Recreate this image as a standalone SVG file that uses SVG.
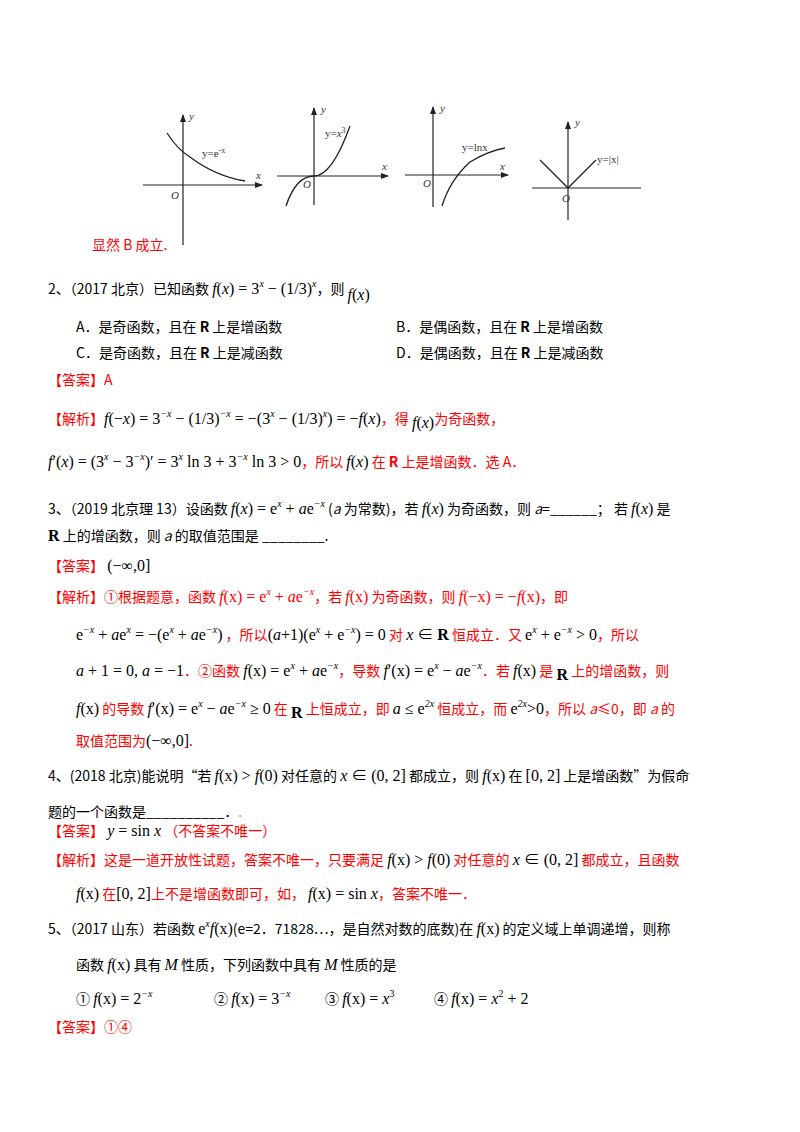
<svg xmlns="http://www.w3.org/2000/svg" width="800" height="1132" viewBox="0 0 800 1132">
<defs><marker id="ar" markerWidth="8" markerHeight="6" refX="7" refY="3" orient="auto" markerUnits="userSpaceOnUse"><path d="M0,0 L8,3 L0,6 Z" fill="#222"/></marker></defs>
<style>
text{font-family:"Noto Sans CJK SC","Noto Sans",sans-serif;font-size:14px;fill:#000}
.r{fill:#ff0000}
.m{font-family:"Liberation Serif","Noto Sans CJK SC",serif;font-size:16px}
.i{font-style:italic}
.g{font-family:"Liberation Serif",serif;font-size:11px;fill:#333}
.ax{stroke:#222;stroke-width:1.2;fill:none}
.cv{stroke:#222;stroke-width:1.3;fill:none}
.s{font-size:10px}
.b{font-weight:bold}
</style>
<rect width="800" height="1132" fill="#fff"/>
<g id="connectors">
<line class="ax" x1="183" y1="245" x2="183" y2="115" marker-end="url(#ar)"/>
<line class="ax" x1="143" y1="185" x2="262" y2="185" marker-end="url(#ar)"/>
<line class="ax" x1="314" y1="205" x2="314" y2="108" marker-end="url(#ar)"/>
<line class="ax" x1="277" y1="176" x2="388" y2="176" marker-end="url(#ar)"/>
<line class="ax" x1="433" y1="207" x2="433" y2="107" marker-end="url(#ar)"/>
<line class="ax" x1="405" y1="175" x2="508" y2="175" marker-end="url(#ar)"/>
<line class="ax" x1="568" y1="220" x2="568" y2="122" marker-end="url(#ar)"/>
<line class="ax" x1="532" y1="188" x2="641" y2="188"/>
</g>
<g id="graphs">
<path class="cv" d="M167,133 Q178,150 190,157 Q215,176 245,181"/>
<path class="cv" d="M286,206 Q296,176 314,176 Q332,176 350,126"/>
<path class="cv" d="M442,206 Q450,180 470,162 Q488,151 505,148"/>
<path class="cv" d="M540,160 L568,188 L596,160"/>
<text class="g i" x="189" y="120">y</text><text class="g" x="202" y="157">y=e<tspan dy="-4" font-size="8">-x</tspan></text><text class="g i" x="256" y="179">x</text><text class="g i" x="171" y="199">O</text>
<text class="g i" x="321" y="113">y</text><text class="g" x="325" y="137">y=<tspan font-style="italic">x</tspan><tspan dy="-4" font-size="8">3</tspan></text><text class="g i" x="382" y="170">x</text><text class="g i" x="303" y="188">O</text>
<text class="g i" x="440" y="112">y</text><text class="g" x="462" y="151">y=lnx</text><text class="g i" x="500" y="170">x</text><text class="g i" x="423" y="187">O</text>
<text class="g i" x="575" y="126">y</text><text class="g" x="597" y="163">y=|x|</text><text class="g i" x="562" y="202">O</text>
</g>
<g id="text">
<text class="r" x="92" y="250">显然 B 成立.</text>
<text x="48" y="294">2、（2017 北京）已知函数 <tspan class="m i">f</tspan><tspan class="m">(</tspan><tspan class="m i">x</tspan><tspan class="m">) = 3</tspan><tspan class="m i s" dy="-7">x</tspan><tspan class="m" dy="7"> − (</tspan><tspan class="m" font-size="12">1/3</tspan><tspan class="m">)</tspan><tspan class="m i s" dy="-7">x</tspan><tspan dy="7">，则 </tspan><tspan class="m i" dy="6">f</tspan><tspan class="m">(</tspan><tspan class="m i">x</tspan><tspan class="m">)</tspan></text>
<text x="76" y="332">A．是奇函数，且在 <tspan class="b">R</tspan> 上是增函数</text>
<text x="396" y="332">B．是偶函数，且在 <tspan class="b">R</tspan> 上是增函数</text>
<text x="76" y="358">C．是奇函数，且在 <tspan class="b">R</tspan> 上是减函数</text>
<text x="396" y="358">D．是偶函数，且在 <tspan class="b">R</tspan> 上是减函数</text>
<text class="r" x="48" y="385">【答案】A</text>
<text class="r" x="48" y="424">【解析】<tspan class="m i" fill="#000">f</tspan><tspan class="m" fill="#000">(−</tspan><tspan class="m i" fill="#000">x</tspan><tspan class="m" fill="#000">) = 3</tspan><tspan class="m i s" fill="#000" dy="-7">−x</tspan><tspan class="m" fill="#000" dy="7"> − (1/3)</tspan><tspan class="m i s" fill="#000" dy="-7">−x</tspan><tspan class="m" fill="#000" dy="7"> = −(3</tspan><tspan class="m i s" fill="#000" dy="-7">x</tspan><tspan class="m" fill="#000" dy="7"> − (1/3)</tspan><tspan class="m i s" fill="#000" dy="-7">x</tspan><tspan class="m" fill="#000" dy="7">) = −</tspan><tspan class="m i" fill="#000">f</tspan><tspan class="m" fill="#000">(</tspan><tspan class="m i" fill="#000">x</tspan><tspan class="m" fill="#000">)</tspan>，得 <tspan class="m i" fill="#000" dy="4">f</tspan><tspan class="m" fill="#000">(</tspan><tspan class="m i" fill="#000">x</tspan><tspan class="m" fill="#000">)</tspan><tspan dy="-4">为奇函数，</tspan></text>
<text class="r" x="48" y="467"><tspan class="m i" fill="#000">f</tspan><tspan class="m" fill="#000">′(</tspan><tspan class="m i" fill="#000">x</tspan><tspan class="m" fill="#000">) = (3</tspan><tspan class="m i s" fill="#000" dy="-7">x</tspan><tspan class="m" fill="#000" dy="7"> − 3</tspan><tspan class="m i s" fill="#000" dy="-7">−x</tspan><tspan class="m" fill="#000" dy="7">)′ = 3</tspan><tspan class="m i s" fill="#000" dy="-7">x</tspan><tspan class="m" fill="#000" dy="7"> ln 3 + 3</tspan><tspan class="m i s" fill="#000" dy="-7">−x</tspan><tspan class="m" fill="#000" dy="7"> ln 3 &gt; 0</tspan>，所以 <tspan class="m i" fill="#000">f</tspan><tspan class="m" fill="#000">(</tspan><tspan class="m i" fill="#000">x</tspan><tspan class="m" fill="#000">)</tspan> 在 <tspan class="b">R</tspan> 上是增函数．选 A．</text>
<text x="48" y="514">3、（2019 北京理 13）设函数 <tspan class="m i">f</tspan><tspan class="m">(</tspan><tspan class="m i">x</tspan><tspan class="m">) = e</tspan><tspan class="m i s" dy="-7">x</tspan><tspan class="m" dy="7"> + </tspan><tspan class="m i">a</tspan><tspan class="m">e</tspan><tspan class="m i s" dy="-7">−x</tspan><tspan dy="7">  (</tspan><tspan class="i">a</tspan> 为常数)，若 <tspan class="m i">f</tspan><tspan class="m">(</tspan><tspan class="m i">x</tspan><tspan class="m">)</tspan> 为奇函数，则 <tspan class="i">a</tspan>=______；  若 <tspan class="m i">f</tspan><tspan class="m">(</tspan><tspan class="m i">x</tspan><tspan class="m">)</tspan> 是</text>
<text x="48" y="541"><tspan class="m b">R</tspan> 上的增函数，则 <tspan class="i">a</tspan> 的取值范围是 ________.</text>
<text class="r" x="48" y="571">【答案】 <tspan class="m" fill="#000">(−∞,0]</tspan></text>
<text class="r" x="48" y="602">【解析】①根据题意，函数 <tspan class="m i">f</tspan><tspan class="m">(x) = e</tspan><tspan class="m i s" dy="-7">x</tspan><tspan class="m" dy="7"> + </tspan><tspan class="m i">a</tspan><tspan class="m">e</tspan><tspan class="m i s" dy="-7">−x</tspan><tspan dy="7">，若 </tspan><tspan class="m i">f</tspan><tspan class="m">(x)</tspan> 为奇函数，则 <tspan class="m i">f</tspan><tspan class="m">(−x) = −</tspan><tspan class="m i">f</tspan><tspan class="m">(x)</tspan>，即</text>
<text class="r" x="76" y="640"><tspan class="m" fill="#000">e</tspan><tspan class="m i s" fill="#000" dy="-7">−x</tspan><tspan class="m" fill="#000" dy="7"> + </tspan><tspan class="m i" fill="#000">a</tspan><tspan class="m" fill="#000">e</tspan><tspan class="m i s" fill="#000" dy="-7">x</tspan><tspan class="m" fill="#000" dy="7"> = −(e</tspan><tspan class="m i s" fill="#000" dy="-7">x</tspan><tspan class="m" fill="#000" dy="7"> + </tspan><tspan class="m i" fill="#000">a</tspan><tspan class="m" fill="#000">e</tspan><tspan class="m i s" fill="#000" dy="-7">−x</tspan><tspan class="m" fill="#000" dy="7">)</tspan> ，所以<tspan class="m" fill="#000">(</tspan><tspan class="m i" fill="#000">a</tspan><tspan class="m" fill="#000">+1)(e</tspan><tspan class="m i s" fill="#000" dy="-7">x</tspan><tspan class="m" fill="#000" dy="7"> + e</tspan><tspan class="m i s" fill="#000" dy="-7">−x</tspan><tspan class="m" fill="#000" dy="7">) = 0</tspan> 对 <tspan class="m i" fill="#000">x</tspan><tspan class="m" fill="#000"> ∈ </tspan><tspan class="m b" fill="#000">R</tspan> 恒成立．又 <tspan class="m" fill="#000">e</tspan><tspan class="m i s" fill="#000" dy="-7">x</tspan><tspan class="m" fill="#000" dy="7"> + e</tspan><tspan class="m i s" fill="#000" dy="-7">−x</tspan><tspan class="m" fill="#000" dy="7"> &gt; 0</tspan>，所以</text>
<text class="r" x="76" y="676"><tspan class="m i" fill="#000">a</tspan><tspan class="m" fill="#000"> + 1 = 0, </tspan><tspan class="m i" fill="#000">a</tspan><tspan class="m" fill="#000"> = −1</tspan>．②函数 <tspan class="m i" fill="#000">f</tspan><tspan class="m" fill="#000">(x) = e</tspan><tspan class="m i s" fill="#000" dy="-7">x</tspan><tspan class="m" fill="#000" dy="7"> + </tspan><tspan class="m i" fill="#000">a</tspan><tspan class="m" fill="#000">e</tspan><tspan class="m i s" fill="#000" dy="-7">−x</tspan><tspan dy="7">，导数 </tspan><tspan class="m i" fill="#000">f</tspan><tspan class="m" fill="#000">′(x) = e</tspan><tspan class="m i s" fill="#000" dy="-7">x</tspan><tspan class="m" fill="#000" dy="7"> − </tspan><tspan class="m i" fill="#000">a</tspan><tspan class="m" fill="#000">e</tspan><tspan class="m i s" fill="#000" dy="-7">−x</tspan><tspan dy="7">．若 </tspan><tspan class="m i" fill="#000">f</tspan><tspan class="m" fill="#000">(x)</tspan> 是 <tspan class="m b" fill="#000" dy="4">R</tspan><tspan dy="-4"> 上的增函数，则</tspan></text>
<text class="r" x="76" y="714"><tspan class="m i" fill="#000">f</tspan><tspan class="m" fill="#000">(x)</tspan> 的导数 <tspan class="m i" fill="#000">f</tspan><tspan class="m" fill="#000">′(x) = e</tspan><tspan class="m i s" fill="#000" dy="-7">x</tspan><tspan class="m" fill="#000" dy="7"> − </tspan><tspan class="m i" fill="#000">a</tspan><tspan class="m" fill="#000">e</tspan><tspan class="m i s" fill="#000" dy="-7">−x</tspan><tspan class="m" fill="#000" dy="7"> ≥ 0</tspan> 在 <tspan class="m b" fill="#000" dy="4">R</tspan><tspan dy="-4"> 上恒成立，即 </tspan><tspan class="m i" fill="#000">a</tspan><tspan class="m" fill="#000"> ≤ e</tspan><tspan class="m i s" fill="#000" dy="-7">2x</tspan><tspan dy="7"> 恒成立，而 </tspan><tspan class="m" fill="#000">e</tspan><tspan class="m i s" fill="#000" dy="-7">2x</tspan><tspan class="m" fill="#000" dy="7">&gt;0</tspan>，所以 <tspan class="i">a</tspan>≤0，即 <tspan class="i">a</tspan> 的</text>
<text class="r" x="76" y="746">取值范围为<tspan class="m" fill="#000">(−∞,0]</tspan>.</text>
<text x="48" y="781">4、(2018 北京)能说明“若 <tspan class="m i">f</tspan><tspan class="m">(x) &gt; </tspan><tspan class="m i">f</tspan><tspan class="m">(0)</tspan> 对任意的 <tspan class="m i">x</tspan><tspan class="m"> ∈ (0, 2]</tspan> 都成立，则 <tspan class="m i">f</tspan><tspan class="m">(x)</tspan> 在 <tspan class="m">[0, 2]</tspan> 上是增函数”为假命</text>
<text x="48" y="817">题的一个函数是__________．<tspan fill="#e0a000">.</tspan></text>
<text class="r" x="48" y="836">【答案】 <tspan class="m i" fill="#000">y</tspan><tspan class="m" fill="#000"> = sin </tspan><tspan class="m i" fill="#000">x</tspan> （不答案不唯一）</text>
<text class="r" x="48" y="865">【解析】这是一道开放性试题，答案不唯一，只要满足 <tspan class="m i" fill="#000">f</tspan><tspan class="m" fill="#000">(x) &gt; </tspan><tspan class="m i" fill="#000">f</tspan><tspan class="m" fill="#000">(0)</tspan> 对任意的 <tspan class="m i" fill="#000">x</tspan><tspan class="m" fill="#000"> ∈ (0, 2]</tspan> 都成立，且函数</text>
<text class="r" x="76" y="899"><tspan class="m i" fill="#000">f</tspan><tspan class="m" fill="#000">(x)</tspan> 在<tspan class="m" fill="#000">[0, 2]</tspan>上不是增函数即可，如， <tspan class="m i" fill="#000">f</tspan><tspan class="m" fill="#000">(x) = sin </tspan><tspan class="m i" fill="#000">x</tspan>，答案不唯一．</text>
<text x="48" y="934">5、（2017 山东）若函数 <tspan class="m">e</tspan><tspan class="m i s" dy="-7">x</tspan><tspan class="m i" dy="7">f</tspan><tspan class="m">(x)</tspan>(e=2．71828⋯，是自然对数的底数)在 <tspan class="m i">f</tspan><tspan class="m">(x)</tspan> 的定义域上单调递增，则称</text>
<text x="76" y="970">函数 <tspan class="m i">f</tspan><tspan class="m">(x)</tspan> 具有 <tspan class="m i">M</tspan> 性质，下列函数中具有 <tspan class="m i">M</tspan> 性质的是</text>
<text x="76" y="1004">① <tspan class="m i">f</tspan><tspan class="m">(x) = 2</tspan><tspan class="m i s" dy="-7">−x</tspan></text>
<text x="214" y="1004">② <tspan class="m i">f</tspan><tspan class="m">(x) = 3</tspan><tspan class="m i s" dy="-7">−x</tspan></text>
<text x="325" y="1004">③ <tspan class="m i">f</tspan><tspan class="m">(x) = </tspan><tspan class="m i">x</tspan><tspan class="m s" dy="-7">3</tspan></text>
<text x="434" y="1004">④ <tspan class="m i">f</tspan><tspan class="m">(x) = </tspan><tspan class="m i">x</tspan><tspan class="m s" dy="-7">2</tspan><tspan class="m" dy="7"> + 2</tspan></text>
<text class="r" x="48" y="1032">【答案】①④</text>
</g>
</svg>
